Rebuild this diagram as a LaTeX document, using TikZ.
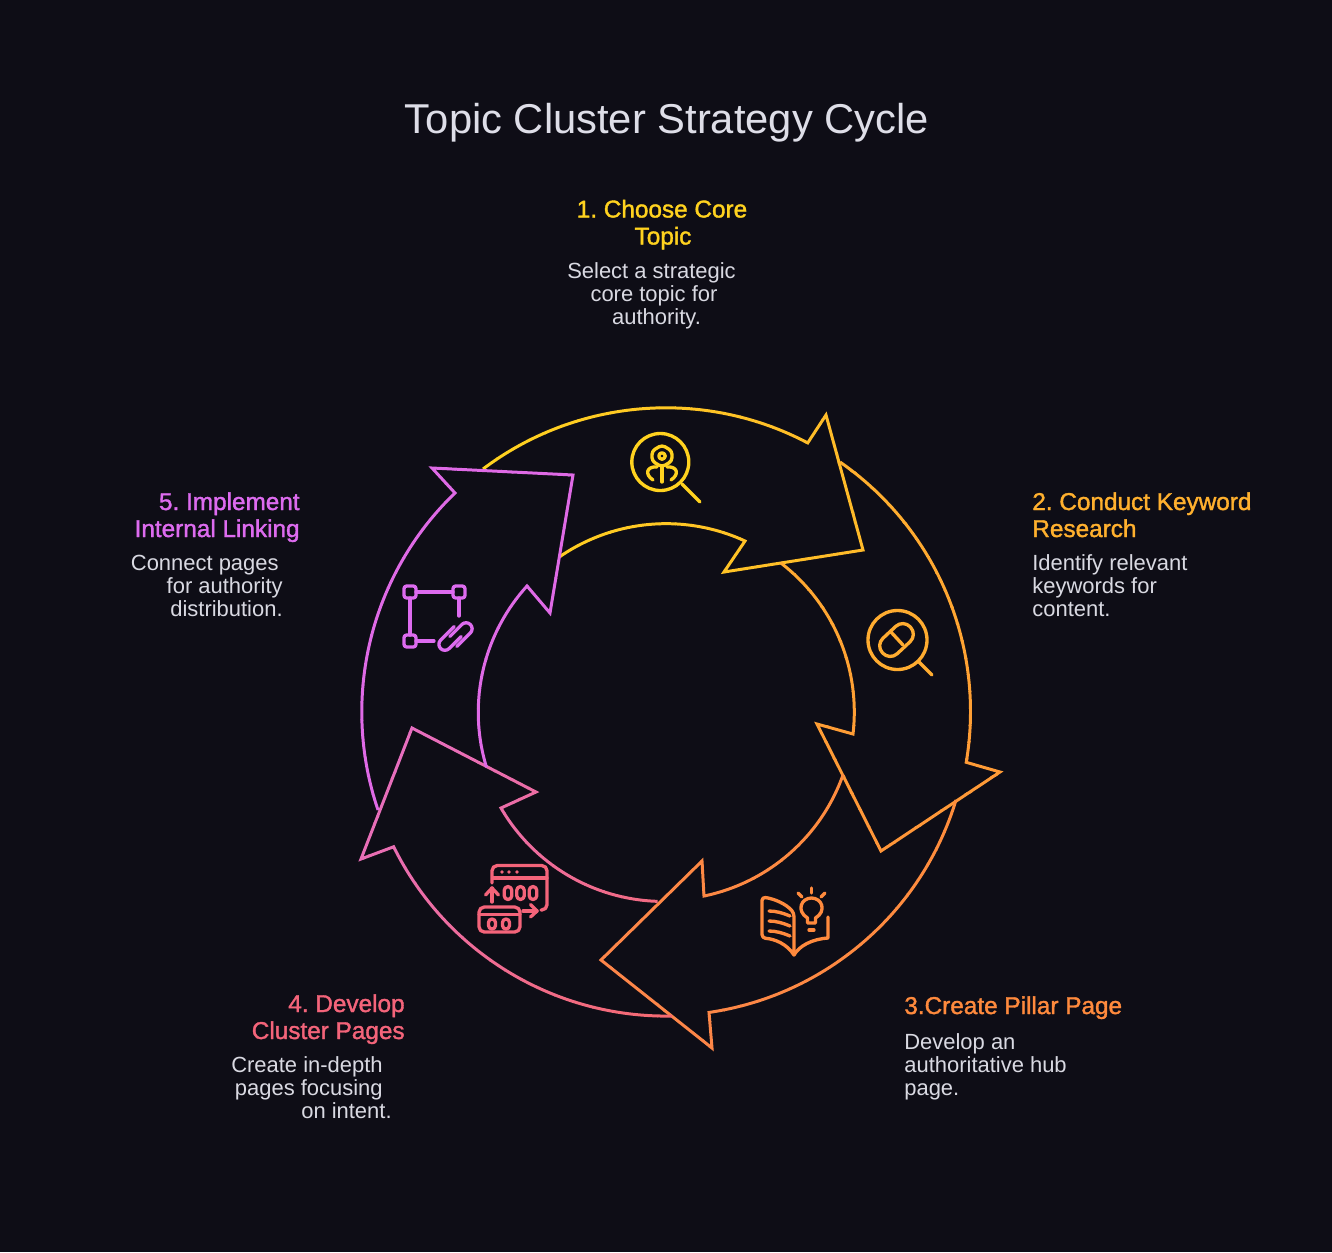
\documentclass[tikz,border=0pt]{standalone}
\usepackage{fontspec}
\setmainfont{Liberation Sans}
\newfontfamily\headfont[FakeBold=1.5]{Liberation Sans}
\definecolor{bgdark}{HTML}{0E0D16}
\definecolor{titlegrey}{HTML}{DEDEE8}
\definecolor{bodygrey}{HTML}{D9D9E2}
\definecolor{coreyellow}{HTML}{FFD21F}
\definecolor{keyorange}{HTML}{FFB02E}
\definecolor{pillarorange}{HTML}{FF8A3D}
\definecolor{clusterpink}{HTML}{F4647A}
\definecolor{linkviolet}{HTML}{DD6BEF}
\tikzset{
  ringline/.style={line width=1.7pt,line join=miter},
  iconline/.style={line width=1.9pt,line cap=round,line join=round},
  titletext/.style={text=titlegrey,font=\fontsize{23.75}{28}\selectfont},
  headtext/.style={font=\headfont\fontsize{13.85}{16}\selectfont},
  bodytext/.style={text=bodygrey,font=\fontsize{12.5}{14}\selectfont}
}
\newcommand{\ringarrow}[6]{%
  \foreach \i in {0,...,23}{%
    \pgfmathtruncatemacro{\p}{round(\i*100/23)}%
    \pgfmathsetmacro{\xa}{\i*#6/24}%
    \pgfmathsetmacro{\xb}{(\i+1)*#6/24+0.5}%
    \begin{scope}
      \clip[shift={#4},rotate=#5] (\xa,-1500) rectangle (\xb,1500);
      \draw[ringline,color=#3!\p!#2] #1;
    \end{scope}}}
\frenchspacing
\begin{document}
\begin{tikzpicture}[x=0.02cm,y=-0.02cm]
  \fill[bgdark] (0,0) rectangle (1332,1252);
  \useasboundingbox (0,0) rectangle (1332,1252);

  \node[titletext,anchor=base] (title) at (667,133) {Topic Cluster Strategy Cycle};

  % ring of five arrows
  \ringarrow{(483,469) arc[start angle=233,end angle=297.8,radius=304] -- (826,415) -- (863,550) -- (724,572) -- (745,541) arc[start angle=294.8,end angle=235.5,radius=188]}{coreyellow}{keyorange!70!coreyellow}{(480,0)}{0}{390}
  \ringarrow{(840,462) arc[start angle=304.8,end angle=369.6,radius=304] -- (1000,772) -- (881,851) -- (817,724) -- (853,734) arc[start angle=366.7,end angle=307.4,radius=188]}{keyorange}{pillarorange!70!keyorange}{(0,455)}{-90}{405}
  \ringarrow{(956,800) arc[start angle=16.9,end angle=81.7,radius=304] -- (712,1048) -- (601,960) -- (702,861) -- (704,896) arc[start angle=78.3,end angle=19.4,radius=188]}{pillarorange!90!keyorange}{pillarorange!75!clusterpink}{(960,795)}{215}{400}
  \ringarrow{(672,1016) arc[start angle=88.9,end angle=153.7,radius=304] -- (361,859) -- (412,728) -- (536,792) -- (501,808) arc[start angle=149.8,end angle=91.8,radius=188]}{clusterpink!85!pillarorange}{linkviolet!85!clusterpink}{(680,1020)}{137}{430}
  \ringarrow{(378,810) arc[start angle=161.2,end angle=226.1,radius=304] -- (432,468) -- (573,475) -- (550,613) -- (527,586) arc[start angle=222.2,end angle=163,radius=188]}{linkviolet!92!clusterpink}{linkviolet}{(378,815)}{70}{400}

  % icon: magnifier with gripper
  \begin{scope}[iconline,draw=coreyellow]
    \draw (660.3,462) circle (28.5);
    \draw (682,484) -- (700,502);
    \draw[rounded corners=2pt] (662,445) -- (672,451) -- (672,461) -- (662,467) -- (652,461) -- (652,451) -- cycle;
    \draw (662,456) circle (3.2);
    \draw (662,467) -- (662,482);
    \draw (657,467) .. controls (647,466) and (644,474) .. (653,480);
    \draw (667,467) .. controls (677,466) and (680,474) .. (671,480);
  \end{scope}

  % icon: magnifier with pill
  \begin{scope}[iconline,draw=keyorange!90!pillarorange]
    \draw (897.5,640) circle (29.5);
    \draw (918,661) -- (932,675);
    \draw[shift={(896.5,640)},rotate=43,rounded corners=5.8pt] (-19,-10.5) rectangle (19,10.5);
    \draw (891,632) -- (903,645);
  \end{scope}

  % icon: book with bulb
  \begin{scope}[iconline,draw=pillarorange]
    \draw[rounded corners=2pt] (794,955) -- (794,913) .. controls (786,904) and (775,899) .. (762,897) -- (762,938) .. controls (775,939) and (787,944) .. (794,955);
    \draw (794,955) .. controls (799,946) and (812,939) .. (828,938) -- (828,917);
    \draw (769,911) .. controls (776,911) and (783,913) .. (790,916);
    \draw (769,921) .. controls (776,921) and (783,923) .. (790,926);
    \draw (769,931) .. controls (776,931) and (783,933) .. (790,936);
    \draw (807.5,923) -- (807.5,918) .. controls (796,911) and (801,898) .. (811.5,898) .. controls (822,898) and (827,911) .. (815.5,918) -- (815.5,923) -- cycle;
    \draw (809,930) -- (814,930);
    \draw (811.5,888) -- (811.5,893);
    \draw (798,893) -- (802,897);
    \draw (825,893) -- (821,897);
  \end{scope}

  % icon: two windows
  \begin{scope}[iconline,draw=clusterpink]
    \draw[rounded corners=3pt] (492,883) -- (492,865.5) -- (547,865.5) -- (547,910) -- (541,910);
    \draw (493,878) -- (547,878);
    \foreach \x in {502,509,517} \fill[clusterpink] (\x,872) circle (1.8);
    \foreach \x in {508,520.5,533} \draw[rounded corners=2.2pt] (\x-3.8,886.5) rectangle (\x+3.8,899.5);
    \draw (492,902) -- (492,888);
    \draw (485.5,895) -- (492,888) -- (498.5,895);
    \draw[rounded corners=3pt] (479,907) rectangle (520,932);
    \draw (479,914.5) -- (520,914.5);
    \foreach \x in {492,506} \draw[rounded corners=2pt] (\x-3.5,919) rectangle (\x+3.5,929);
    \draw (523,911) -- (537,911);
    \draw (530.5,904.5) -- (537,911) -- (530.5,917);
  \end{scope}

  % icon: linked square
  \begin{scope}[iconline,draw=linkviolet]
    \foreach \x/\y in {410/592,459/592,410/641} \draw[rounded corners=1.5pt] (\x-6,\y-6) rectangle (\x+6,\y+6);
    \draw (416,592) -- (453,592);
    \draw (410,598) -- (410,635);
    \draw (459,598) -- (459,616);
    \draw (416,641) -- (434,641);
    \begin{scope}[shift={(455.5,636.5)},rotate=45]
      \draw (4,4) -- (-13,4) arc[start angle=90,end angle=270,radius=6] -- (6,-8);
      \draw (-4,-4) -- (13,-4) arc[start angle=270,end angle=450,radius=6] -- (-6,8);
    \end{scope}
  \end{scope}

  % labels for step 1
  \node[headtext,text=coreyellow,anchor=base] (corea) at (662,217.5) {1. Choose Core};
  \node[headtext,text=coreyellow,anchor=base] (coreb) at (663,244.5) {Topic};
  \node[bodytext,anchor=base] (corec) at (651.5,278) {Select a strategic};
  \node[bodytext,anchor=base] (cored) at (654,301) {core topic for};
  \node[bodytext,anchor=base] (coree) at (656.5,324.4) {authority.};

  % labels for step 2
  \node[headtext,text=keyorange,anchor=base west,inner xsep=0pt] (keya) at (1032,510) {2. Conduct Keyword};
  \node[headtext,text=keyorange,anchor=base west,inner xsep=0pt] (keyb) at (1032,537) {Research};
  \node[bodytext,anchor=base west,inner xsep=0pt] (keyc) at (1032,570) {Identify relevant};
  \node[bodytext,anchor=base west,inner xsep=0pt] (keyd) at (1032,593) {keywords for};
  \node[bodytext,anchor=base west,inner xsep=0pt] (keye) at (1032,616.4) {content.};

  % labels for step 3
  \node[headtext,text=pillarorange,anchor=base west,inner xsep=0pt] (pillara) at (904,1014) {3.Create Pillar Page};
  \node[bodytext,anchor=base west,inner xsep=0pt] (pillarb) at (904,1049) {Develop an};
  \node[bodytext,anchor=base west,inner xsep=0pt] (pillarc) at (904,1072) {authoritative hub};
  \node[bodytext,anchor=base west,inner xsep=0pt] (pillard) at (904,1095) {page.};

  % labels for step 4
  \node[headtext,text=clusterpink,anchor=base east,inner xsep=0pt] (clustera) at (405,1012) {4. Develop};
  \node[headtext,text=clusterpink,anchor=base east,inner xsep=0pt] (clusterb) at (405,1039) {Cluster Pages};
  \node[bodytext,anchor=base east,inner xsep=0pt] (clusterc) at (383,1072) {Create in-depth};
  \node[bodytext,anchor=base east,inner xsep=0pt] (clusterd) at (383,1095) {pages focusing};
  \node[bodytext,anchor=base east,inner xsep=0pt] (clustere) at (392,1118.4) {on intent.};

  % labels for step 5
  \node[headtext,text=linkviolet,anchor=base east,inner xsep=0pt] (linka) at (300,510) {5. Implement};
  \node[headtext,text=linkviolet,anchor=base east,inner xsep=0pt] (linkb) at (300,537) {Internal Linking};
  \node[bodytext,anchor=base east,inner xsep=0pt] (linkc) at (279,570) {Connect pages};
  \node[bodytext,anchor=base east,inner xsep=0pt] (linkd) at (283,593) {for authority};
  \node[bodytext,anchor=base east,inner xsep=0pt] (linke) at (283,616.4) {distribution.};
\end{tikzpicture}
\end{document}
